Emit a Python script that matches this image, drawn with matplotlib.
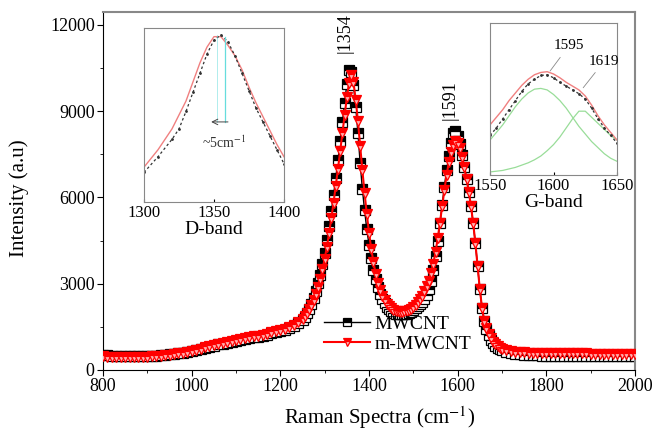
import matplotlib
matplotlib.use("Agg")
import matplotlib.pyplot as plt
from matplotlib.ticker import MultipleLocator

plt.rcParams['font.family'] = ['Liberation Serif', 'DejaVu Serif']
plt.rcParams['mathtext.fontset'] = 'stix'

# ---------------- main spectra data ----------------
x_low = list(range(800, 1250, 10))
x_mid = list(range(1250, 1700, 5))
x_high = list(range(1700, 2001, 10))
raman_shift = x_low + x_mid + x_high

mwcnt_low = [520, 510, 500, 495, 490, 490, 485, 485, 480, 480,
             485, 490, 500, 510, 525, 540, 560, 580, 600, 630,
             660, 690, 730, 770, 810, 850, 890, 920, 950, 980,
             1010, 1040, 1070, 1100, 1130, 1160, 1190, 1230, 1270, 1310,
             1350, 1400, 1460, 1530, 1620]
mwcnt_mid = [1750, 1850, 1970, 2120, 2300, 2500, 2740, 3010, 3320, 3680,
             4080, 4520, 5000, 5520, 6080, 6680, 7300, 7950, 8620, 9300,
             9950, 10450, 10380, 9900, 9150, 8250, 7200, 6300, 5550, 4900,
             4350, 3880, 3480, 3150, 2880, 2660, 2470, 2320, 2200, 2110,
             2040, 1990, 1960, 1940, 1930, 1930, 1940, 1960, 1990, 2030,
             2080, 2140, 2210, 2280, 2370, 2480, 2620, 2820, 3100, 3480,
             3950, 4500, 5100, 5750, 6380, 6950, 7450, 7900, 8230, 8300,
             8150, 7850, 7480, 7070, 6650, 6200, 5700, 5100, 4400, 3600,
             2800, 2150, 1700, 1420, 1210, 1050, 930, 840, 770, 720]
mwcnt_high = [680, 620, 580, 555, 540, 528, 518, 510, 505, 500,
              497, 494, 492, 490, 488, 486, 485, 484, 483, 482,
              481, 480, 479, 478, 477, 476, 475, 475, 474, 473, 472]
mwcnt = mwcnt_low + mwcnt_mid + mwcnt_high

m_mwcnt_low = [470, 465, 460, 460, 455, 455, 455, 455, 455, 460,
               465, 470, 480, 495, 510, 530, 550, 575, 600, 630,
               665, 700, 740, 785, 830, 875, 915, 950, 985, 1015,
               1045, 1075, 1105, 1135, 1165, 1195, 1230, 1265, 1305, 1345,
               1390, 1440, 1500, 1570, 1660]
m_mwcnt_mid = [1780, 1870, 1980, 2110, 2270, 2450, 2660, 2900, 3180, 3500,
               3870, 4290, 4760, 5270, 5820, 6400, 7000, 7620, 8250, 8880,
               9480, 9980, 10250, 10000, 9400, 8650, 7800, 6950, 6150, 5420,
               4780, 4220, 3750, 3350, 3030, 2780, 2580, 2420, 2300, 2210,
               2140, 2090, 2060, 2040, 2030, 2030, 2040, 2060, 2090, 2130,
               2190, 2260, 2350, 2460, 2590, 2740, 2910, 3110, 3370, 3700,
               4100, 4580, 5120, 5700, 6250, 6780, 7220, 7580, 7830, 7950,
               7900, 7720, 7420, 7050, 6650, 6200, 5700, 5100, 4400, 3600,
               2800, 2150, 1720, 1450, 1260, 1110, 990, 900, 830, 780]
m_mwcnt_high = [740, 690, 660, 640, 625, 615, 605, 600, 595, 590,
                590, 585, 585, 580, 580, 580, 578, 575, 575, 575,
                572, 570, 570, 568, 568, 565, 565, 565, 562, 560, 560]
m_mwcnt = m_mwcnt_low + m_mwcnt_mid + m_mwcnt_high

# ---------------- D-band inset data (normalised) ----------------
d_x = [1300, 1310, 1320, 1325, 1330, 1335, 1340, 1345, 1350, 1355,
       1360, 1365, 1370, 1375, 1380, 1385, 1390, 1395, 1400]
d_mwcnt = [0.17, 0.26, 0.36, 0.42, 0.52, 0.63, 0.74, 0.85, 0.93, 0.96,
           0.92, 0.84, 0.74, 0.64, 0.54, 0.46, 0.38, 0.30, 0.22]
d_m_mwcnt = [0.20, 0.30, 0.42, 0.50, 0.58, 0.69, 0.80, 0.89, 0.95, 0.95,
             0.90, 0.84, 0.76, 0.66, 0.57, 0.49, 0.41, 0.33, 0.26]

# ---------------- G-band inset data (normalised) ----------------
g_x = [1550, 1555, 1560, 1565, 1570, 1575, 1580, 1585, 1590, 1595,
       1600, 1605, 1610, 1615, 1620, 1625, 1630, 1635, 1640, 1645, 1650]
g_mwcnt = [0.26, 0.31, 0.37, 0.43, 0.49, 0.55, 0.60, 0.63, 0.655, 0.66,
           0.64, 0.61, 0.585, 0.56, 0.535, 0.50, 0.44, 0.37, 0.31, 0.26, 0.21]
g_m_mwcnt = [0.33, 0.38, 0.43, 0.49, 0.54, 0.59, 0.63, 0.66, 0.675, 0.68,
             0.665, 0.64, 0.61, 0.585, 0.56, 0.52, 0.46, 0.39, 0.33, 0.28, 0.23]
g_fit1 = [0.23, 0.28, 0.33, 0.39, 0.45, 0.50, 0.54, 0.565, 0.57, 0.56,
          0.53, 0.49, 0.44, 0.38, 0.32, 0.27, 0.22, 0.18, 0.14, 0.11, 0.09]
g_fit2 = [0.02, 0.025, 0.03, 0.04, 0.05, 0.065, 0.08, 0.10, 0.125, 0.16,
          0.20, 0.25, 0.31, 0.37, 0.42, 0.42, 0.38, 0.34, 0.30, 0.26, 0.23]

fig = plt.figure(figsize=(6.59, 4.34), dpi=100)
ax = fig.add_axes([0.1563, 0.1475, 0.8073, 0.8249])

ax.plot(raman_shift, mwcnt, color='black', lw=1.0, marker='s', ms=6.5,
        mec='black', mfc='black', fillstyle='top', mfcalt='white', mew=0.9,
        label='MWCNT', zorder=2)
ax.plot(raman_shift, m_mwcnt, color='red', lw=1.5, marker='v', ms=7.5,
        mec='red', mfc='red', fillstyle='top', mfcalt='#ffb0b0', mew=0.9,
        label='m-MWCNT', zorder=3)

ax.set_xlim(800, 2000)
ax.set_ylim(0, 12452)
ax.xaxis.set_major_locator(MultipleLocator(200))
ax.xaxis.set_minor_locator(MultipleLocator(100))
ax.yaxis.set_major_locator(MultipleLocator(3000))
ax.yaxis.set_minor_locator(MultipleLocator(1500))
ax.tick_params(which='both', direction='out', labelsize=13, colors='black')
ax.tick_params(which='major', length=4, pad=2)
ax.tick_params(which='minor', length=2.5)
for sp in ['top', 'right']:
    ax.spines[sp].set_color('#888888')
    ax.spines[sp].set_linewidth(1.5)
ax.set_xlabel('Raman Spectra (cm$^{-1}$)', fontsize=15)
ax.set_ylabel('Intensity (a.u)', fontsize=15)
ax.xaxis.set_label_coords(0.52, -0.095)
ax.yaxis.set_label_coords(-0.14, 0.48)

ax.text(1346, 11020, '|1354', rotation=90, fontsize=13, ha='center', va='bottom')
ax.text(1583, 8700, '|1591', rotation=90, fontsize=13, ha='center', va='bottom')

leg = ax.legend(loc='lower left', bbox_to_anchor=(0.4, 0.025), frameon=False,
                fontsize=14, handlelength=2.4, handletextpad=0.2,
                borderaxespad=0, labelspacing=0.15, markerscale=0.8)

# ---------------- D-band inset ----------------
axd = fig.add_axes([0.2185, 0.5346, 0.2124, 0.401])
axd.plot(d_x, d_m_mwcnt, color='#f08080', lw=1.0)
axd.plot(d_x, d_mwcnt, color='#333333', lw=0.9, ls=(0, (2, 2)), marker='.', ms=2)
axd.set_xlim(1300, 1400)
axd.set_ylim(0, 1.0)
axd.set_xticks([1300, 1350, 1400])
axd.set_yticks([])
axd.tick_params(axis='x', labelsize=12, length=2, direction='in', pad=2)
for sp in axd.spines.values():
    sp.set_color('#888888')
axd.set_xlabel('D-band', fontsize=14, labelpad=0)
axd.plot([1358, 1358], [0.46, 0.95], color='#66dddd', lw=0.9)
axd.plot([1352, 1352], [0.46, 0.96], color='#66dddd', lw=0.6, alpha=0.6)
axd.annotate('', xy=(1346, 0.46), xytext=(1362, 0.46),
             arrowprops=dict(arrowstyle='->', color='#444444', lw=0.7))
axd.text(1357, 0.34, r'~5cm$^{-1}$', fontsize=10, ha='center', va='center',
         color='#333333')

# ---------------- G-band inset ----------------
axg = fig.add_axes([0.7436, 0.5968, 0.1927, 0.350])
axg.plot(g_x, g_fit1, color='#99dd99', lw=0.9)
axg.plot(g_x, g_fit2, color='#99dd99', lw=0.9)
axg.plot(g_x, g_m_mwcnt, color='#f08080', lw=1.0)
axg.plot(g_x, g_mwcnt, color='#333333', lw=0.9, ls=(0, (2, 2)), marker='.', ms=2)
axg.set_xlim(1550, 1650)
axg.set_ylim(0, 1.0)
axg.set_xticks([1550, 1600, 1650])
axg.set_yticks([])
axg.tick_params(axis='x', labelsize=12, length=2, direction='in', pad=2)
for sp in axg.spines.values():
    sp.set_color('#888888')
axg.set_xlabel('G-band', fontsize=14, labelpad=0)
axg.annotate('1595', xy=(1596, 0.67), xytext=(1600, 0.85), fontsize=11,
             ha='left', va='center',
             arrowprops=dict(arrowstyle='-', color='#888888', lw=0.6))
axg.annotate('1619', xy=(1622, 0.56), xytext=(1628, 0.75), fontsize=11,
             ha='left', va='center',
             arrowprops=dict(arrowstyle='-', color='#888888', lw=0.6))

fig.savefig('out.png', dpi=100)
